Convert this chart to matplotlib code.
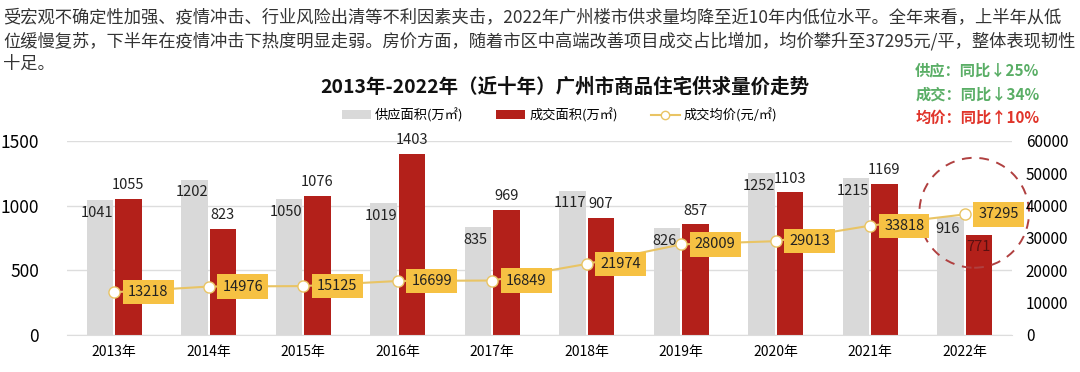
import numpy as np
import matplotlib.pyplot as plt
from matplotlib.patches import Ellipse, Patch
from matplotlib.lines import Line2D

plt.rcParams['font.family'] = ['Noto Sans CJK SC', 'DejaVu Sans']

# data
years = ['2013年', '2014年', '2015年', '2016年', '2017年', '2018年', '2019年', '2020年', '2021年', '2022年']
supply = [1041, 1202, 1050, 1019, 835, 1117, 826, 1252, 1215, 916]
deal = [1055, 823, 1076, 1403, 969, 907, 857, 1103, 1169, 771]
price = [13218, 14976, 15125, 16699, 16849, 21974, 28009, 29013, 33818, 37295]

intro_lines = ["受宏观不确定性加强、疫情冲击、行业风险出清等不利因素夹击，2022年广州楼市供求量均降至近10年内低位水平。全年来看，上半年从低",
               "位缓慢复苏，下半年在疫情冲击下热度明显走弱。房价方面，随着市区中高端改善项目成交占比增加，均价攀升至37295元/平，整体表现韧性",
               "十足。"]

grey = '#D9D9D9'
red = '#B3201A'
gold = '#E9C464'
boxc = '#F6C143'

fig = plt.figure(figsize=(10.8, 3.72), dpi=100)
ax = fig.add_axes([0.062, 0.0995, 0.875, 0.5215])
ax2 = ax.twinx()

x = np.arange(len(years))
w = 0.28
ax.bar(x - 0.15, supply, w, color=grey, zorder=2)
ax.bar(x + 0.15, deal, w, color=red, zorder=2)

for i in range(len(years)):
    ax.text(x[i] - 0.18, supply[i] - 45, str(supply[i]), ha='center', va='top', fontsize=10.5, color='#222222', zorder=3)
    if i == len(years) - 1:
        ax.text(x[i] + 0.15, deal[i] - 40, str(deal[i]), ha='center', va='top', fontsize=10.5, color='#5a1010', zorder=3)
    else:
        ax.text(x[i] + 0.15, deal[i] + 50, str(deal[i]), ha='center', va='bottom', fontsize=10.5, color='#222222', zorder=3)

ax.set_ylim(0, 1500)
ax.set_yticks([0, 500, 1000, 1500])
ax.set_xlim(-0.5, len(years) - 0.5)
ax.set_xticks(x)
ax.set_xticklabels(years, fontsize=10)
ax.grid(axis='y', color='#DDDDDD', linewidth=1, zorder=0)
ax.tick_params(axis='y', labelsize=12.5, length=0, pad=20)
ax.tick_params(axis='x', length=0, pad=7)
for s in ax.spines.values():
    s.set_visible(False)
ax.spines['bottom'].set_visible(True)
ax.spines['bottom'].set_color('#DDDDDD')

ax2.plot(x, price, color=gold, linewidth=1.5, marker='o', markersize=8,
         markerfacecolor='white', markeredgecolor=gold, zorder=4)
for i in range(len(years)):
    ax2.text(x[i] + 0.36, price[i], str(price[i]), ha='center', va='center', fontsize=10.5, color='#222222',
             bbox=dict(boxstyle='square,pad=0.35', facecolor=boxc, edgecolor='none'), zorder=5)
ax2.set_ylim(0, 60000)
ax2.set_yticks(range(0, 60001, 10000))
ax2.tick_params(axis='y', labelsize=11, length=0, pad=10)
for s in ax2.spines.values():
    s.set_visible(False)

# dashed circle around 2022
ax.add_patch(Ellipse((9.1, 945), 1.16, 850, fill=False, edgecolor='#B04040', linestyle=(0, (5, 4)),
                     linewidth=1.4, clip_on=False, zorder=6))

# texts
for k, line in enumerate(intro_lines):
    fig.text(0.003, 0.952 - k * 0.062, line, ha='left', va='center', fontsize=12.45, color='#333333')
fig.text(0.523, 0.765, '2013年-2022年（近十年）广州市商品住宅供求量价走势', ha='center', va='center',
         fontsize=14, fontweight='bold', color='#111111')
fig.text(0.905, 0.81, '供应：同比↓25%', ha='center', va='center', fontsize=11, fontweight='bold', color='#5AAE66')
fig.text(0.905, 0.747, '成交：同比↓34%', ha='center', va='center', fontsize=11, fontweight='bold', color='#5AAE66')
fig.text(0.905, 0.684, '均价：同比↑10%', ha='center', va='center', fontsize=11, fontweight='bold', color='#E0342A')

handles = [Patch(facecolor=grey, edgecolor='none', label='供应面积(万㎡)'),
           Patch(facecolor=red, edgecolor='none', label='成交面积(万㎡)'),
           Line2D([0], [0], color=gold, marker='o', markerfacecolor='white', markeredgecolor=gold,
                  markersize=6, label='成交均价(元/㎡)')]
fig.legend(handles=handles, loc='center', bbox_to_anchor=(0.518, 0.69), ncol=3, frameon=False,
           fontsize=9.5, handlelength=2.2, handleheight=0.7, columnspacing=2.5, handletextpad=0.3)

fig.savefig('out.png', dpi=100)
